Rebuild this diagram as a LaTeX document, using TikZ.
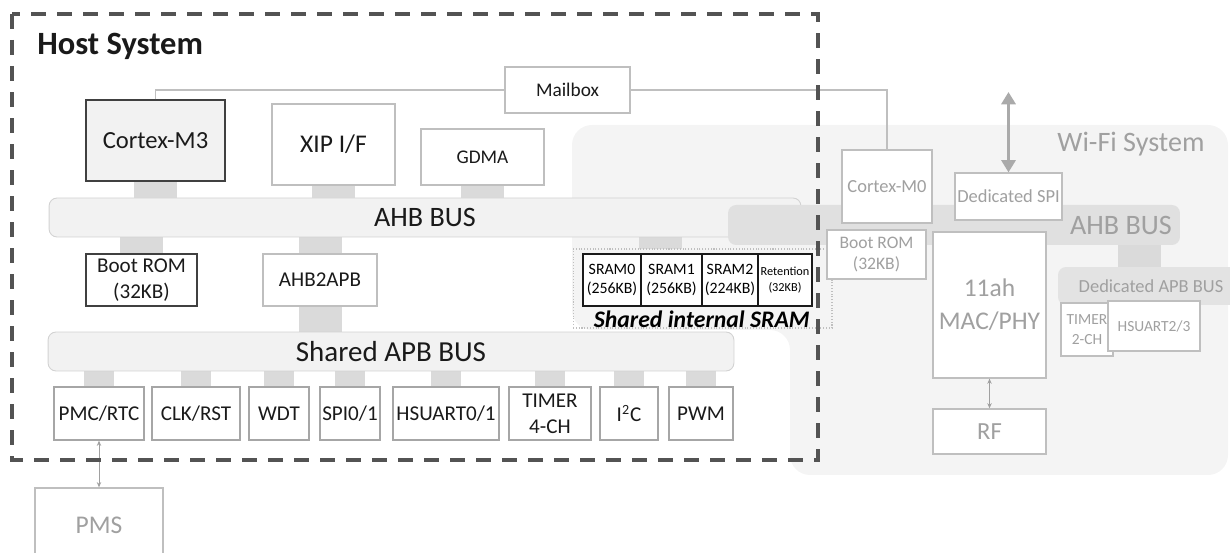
\documentclass[tikz,border=0pt]{standalone}
\usepackage{fontspec}
\setmainfont{Carlito}
\usetikzlibrary{arrows.meta,backgrounds}

\definecolor{hosttext}{HTML}{1A1A1A}
\definecolor{wifitext}{HTML}{A0A0A0}
\definecolor{wifibg}{HTML}{F4F4F4}
\definecolor{busfill}{HTML}{F2F2F2}
\definecolor{busline}{HTML}{D2D2D2}
\definecolor{stubgray}{HTML}{DADADA}
\definecolor{litebox}{HTML}{BFBFBF}
\definecolor{perbox}{HTML}{A6A6A6}
\definecolor{darkbox}{HTML}{404040}

\begin{document}
\begin{tikzpicture}[x=0.02cm,y=-0.02cm,
    hbox/.style={rectangle,draw=litebox,fill=white,line width=0.7pt,inner sep=0pt,align=center,text=hosttext},
    dbox/.style={hbox,draw=darkbox},
    pbox/.style={hbox,draw=perbox,minimum height=1.06cm,font=\fontsize{12}{15}\selectfont},
    wbox/.style={rectangle,draw=litebox,fill=white,line width=0.7pt,inner sep=0pt,align=center,text=wifitext},
    bus/.style={rectangle,rounded corners=0.16cm,draw=busline,fill=busfill,line width=0.5pt,inner sep=0pt,text=hosttext},
    cell/.style={rectangle,draw=hosttext,fill=white,line width=0.9pt,inner sep=0pt,minimum height=1.04cm,align=center,font=\fontsize{9}{10.5}\selectfont},
    stub/.style={draw=stubgray,line width=0.86cm},
    pstub/.style={draw=stubgray,line width=0.6cm},
    mbline/.style={draw=litebox,line width=0.8pt},
    thin/.style={draw=wifitext,line width=0.5pt,<->,>={Stealth[length=3pt,width=2.5pt]}}]
  \useasboundingbox (0,0) rectangle (1230,553);

  % Place the titles
  \node[anchor=west,inner sep=0pt,font=\bfseries\fontsize{18.5}{20}\selectfont,text=hosttext] (hostlbl) at (37,46) {Host System};
  \node[font=\fontsize{16}{18}\selectfont,text=wifitext] (wifilbl) at (1131,144) {Wi-Fi System};

  % Host masters and the mailbox
  \node[hbox,minimum width=2.5cm,minimum height=0.92cm,font=\fontsize{11}{13}\selectfont] (mailbox) at (567.5,90) {Mailbox};
  \node[dbox,fill=busfill,minimum width=2.78cm,minimum height=1.62cm,font=\fontsize{14}{16}\selectfont] (cm3) at (155.5,140.5) {Cortex-M3};
  \node[hbox,minimum width=2.46cm,minimum height=1.62cm,font=\fontsize{14.5}{16}\selectfont] (xip) at (333.5,144.5) {XIP I/F};
  \node[hbox,minimum width=2.46cm,minimum height=1.12cm,font=\fontsize{11}{13}\selectfont] (gdma) at (482.5,157) {GDMA};

  % Host buses
  \node[bus,minimum width=15.04cm,minimum height=0.78cm,font=\fontsize{16}{18}\selectfont] (ahb) at (425,217.5) {AHB BUS};
  \node[dbox,minimum width=2.22cm,minimum height=1.04cm,font=\fontsize{12}{15}\selectfont] (brom) at (141.5,280) {Boot ROM\\(32KB)};
  \node[hbox,minimum width=2.28cm,minimum height=1.04cm,font=\fontsize{12}{15}\selectfont] (a2a) at (320,280) {AHB2APB};
  \node[bus,minimum width=13.72cm,minimum height=0.78cm,font=\fontsize{16.5}{18}\selectfont] (apb) at (391,351.5) {Shared APB BUS};

  % Peripherals
  \node[pbox,minimum width=1.8cm] (pmc) at (99,413.5) {PMC/RTC};
  \node[pbox,minimum width=1.76cm] (clk) at (196,413.5) {CLK/RST};
  \node[pbox,minimum width=1.2cm] (wdt) at (279,413.5) {WDT};
  \node[pbox,minimum width=1.2cm] (spi) at (350,413.5) {SPI0/1};
  \node[pbox,minimum width=2.12cm] (hsu) at (446,413.5) {HSUART0/1};
  \node[pbox,minimum width=1.64cm] (tmr) at (550,413.5) {TIMER\\4-CH};
  \node[pbox,minimum width=1.16cm] (iic) at (629,413.5) {I\textsuperscript{2}C};
  \node[pbox,minimum width=1.28cm] (pwm) at (701,413.5) {PWM};
  \node[wbox,minimum width=2.56cm,minimum height=1.48cm,font=\fontsize{14.5}{16}\selectfont] (pms) at (99,525) {PMS};

  % Shared SRAM
  \node[rectangle,draw=litebox,densely dotted,line width=0.6pt,minimum width=5.18cm,minimum height=1.58cm,inner sep=0pt] (sramall) at (702.5,288.5) {};
  \node[cell,minimum width=1.16cm] (s0) at (612,280) {SRAM0\\(256KB)};
  \node[cell,minimum width=1.22cm] (s1) at (671.5,280) {SRAM1\\(256KB)};
  \node[cell,minimum width=1.12cm] (s2) at (730,280) {SRAM2\\(224KB)};
  \node[cell,minimum width=1.08cm,font=\fontsize{7}{9}\selectfont] (ret) at (785,280) {Retention\\(32KB)};
  \node[anchor=east,inner sep=0pt,font=\bfseries\itshape\fontsize{13.5}{14}\selectfont,text=black] (sramlbl) at (810,319) {Shared internal SRAM};
  \coordinate (sramtap) at (660,249);

  % Wi-Fi side
  \node[rectangle,rounded corners=0.16cm,fill=stubgray!85,minimum width=9.04cm,minimum height=0.8cm,inner sep=0pt] (wahb) at (954,225) {};
  \node[font=\fontsize{16}{18}\selectfont,text=wifitext] (wahblbl) at (1121,225) {AHB BUS};
  \node[wbox,minimum width=1.8cm,minimum height=1.46cm,font=\fontsize{10.5}{12}\selectfont] (m0) at (887,186.5) {Cortex-M0};
  \node[wbox,minimum width=2.14cm,minimum height=0.94cm,font=\fontsize{10.5}{12}\selectfont] (dspi) at (1008.5,196.5) {Dedicated SPI};
  \coordinate (spiext) at (1008.5,92);
  \node[wbox,minimum width=1.98cm,minimum height=0.98cm,font=\fontsize{10}{12}\selectfont] (wbrom) at (876.5,254.5) {Boot ROM\\(32KB)};
  \node[wbox,minimum width=2.26cm,minimum height=2.92cm,font=\fontsize{14.5}{19}\selectfont] (mac) at (989.5,305) {11ah\\MAC/PHY};
  \node[wbox,minimum width=2.26cm,minimum height=0.9cm,font=\fontsize{14}{16}\selectfont] (rf) at (989.5,431.5) {RF};
  \node[rectangle,rounded corners=0.16cm,fill=stubgray!75,minimum width=3.72cm,minimum height=0.76cm,inner sep=0pt,text=wifitext,font=\fontsize{10.5}{12}\selectfont] (dapb) at (1151,286) {Dedicated APB BUS};
  \coordinate (dtap) at (1139,267);
  \node[wbox,minimum width=1.04cm,minimum height=1.06cm,font=\fontsize{8.8}{11.4}\selectfont] (tmr2) at (1087,329.5) {TIMER\\2-CH};
  \node[wbox,minimum width=1.84cm,minimum height=1cm,font=\fontsize{8.8}{11}\selectfont] (hsu23) at (1154,326) {HSUART2/3};

  % Regions and bus taps behind the blocks
  \begin{scope}[on background layer]
    \fill[wifibg,rounded corners=0.4cm] (572,230) -- (572,125) -- (1228,125) -- (1228,475) -- (790,475) -- (790,330) -- (572,330) -- cycle;
    \draw[stub] (cm3.south) -- (cm3.south |- ahb.north);
    \draw[stub] (xip.south) -- (xip.south |- ahb.north);
    \draw[stub] (gdma.south) -- (gdma.south |- ahb.north);
    \draw[stub] (brom.north) -- (brom.north |- ahb.south);
    \draw[stub] (a2a.north) -- (a2a.north |- ahb.south);
    \draw[stub] (a2a.south) -- (a2a.south |- apb.north);
    \draw[stub] (sramtap) -- (sramtap |- ahb.south);
    \draw[stub] (dtap) -- (dtap |- wahb.south);
    \foreach \p in {pmc,clk,wdt,spi,hsu,tmr,iic,pwm}
      \draw[pstub] (\p.north) -- (\p.north |- apb.south);
  \end{scope}

  % The lines!
  \draw[mbline] (cm3.north) |- (mailbox.west);
  \draw[mbline] (mailbox.east) -| (m0.north);
  \draw[draw=wifitext!90,line width=1.7pt,<->,>={Triangle[length=7pt,width=8pt]}] (spiext) -- (dspi.north);
  \draw[thin] (pmc.south) -- (pms.north);
  \draw[thin] (mac.south) -- (rf.north);

  % Host frame on top
  \draw[draw=darkbox!90,line width=1.8pt,dash pattern=on 8.5pt off 6.3pt] (12,14) rectangle (818,460);
\end{tikzpicture}
\end{document}
